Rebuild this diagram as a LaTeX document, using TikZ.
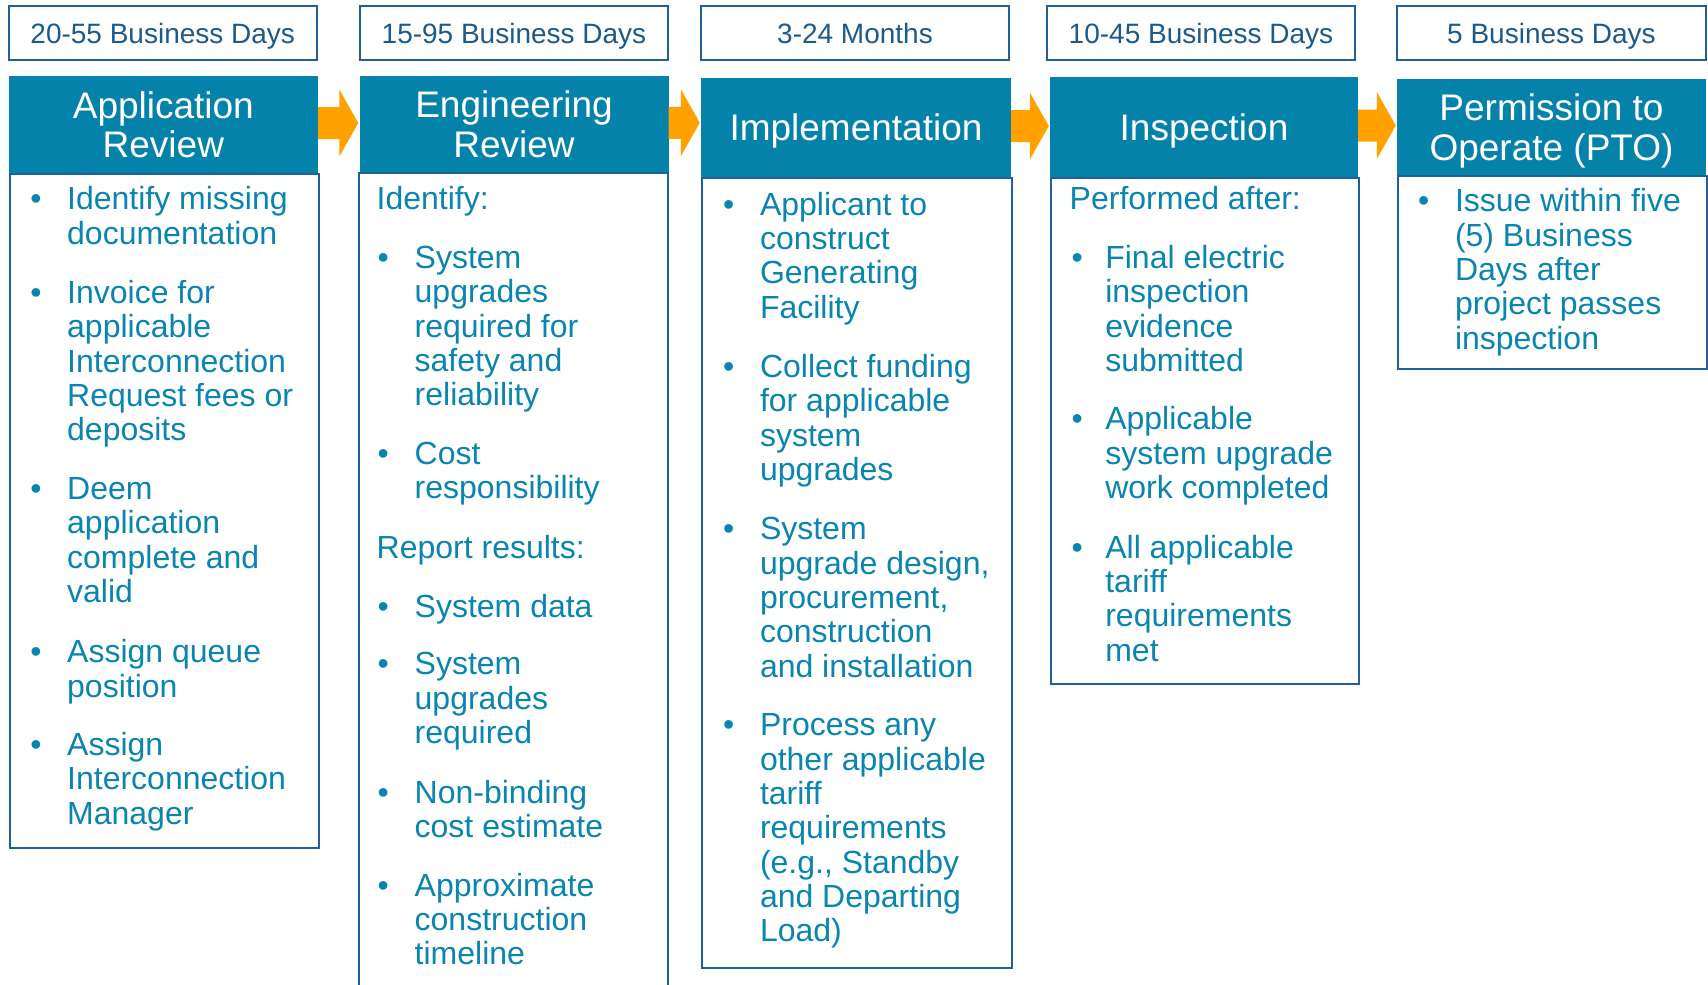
\documentclass[tikz,border=0pt]{standalone}
\usepackage{fontspec}
\setmainfont{Liberation Sans}
\usetikzlibrary{calc}
\definecolor{hdrfill}{HTML}{0482AA}
\definecolor{bodyc}{HTML}{0A85B0}
\definecolor{lblc}{HTML}{1B5A8C}
\definecolor{borderc}{HTML}{1F6098}
\definecolor{arrowc}{HTML}{FFA200}
\tikzset{
  lblbox/.style={draw=borderc, line width=2pt, fill=white, minimum height=54, inner sep=0,
    text=lblc, text height=20, text depth=0, font=\fontsize{28}{32}\selectfont},
  hdrbox/.style={fill=hdrfill, inner sep=0, text=white, align=center, text depth=0,
    font=\fontsize{37}{39.5}\selectfont},
  contbox/.style={draw=borderc, line width=2pt, anchor=north west, inner sep=0},
  bodytext/.style={anchor=north west, inner sep=0, text=bodyc, align=left,
    font=\fontsize{32}{34.3}\selectfont, xshift=1.5pt, yshift=-1.3pt},
  bul/.style={anchor=north, inner sep=0, text=bodyc, font=\fontsize{32}{34.3}\selectfont,
    xshift=1pt, yshift=-1.3pt},
}
\newcommand\bitem[5]{%
  \node[bul] (#1b) at (#2,#4) {\strut\textbullet};
  \node[bodytext] (#1) at (#3,#4) {\strut #5};}
\newcommand\flowarrow[2]{%
  \fill[arrowc] let \p1=(#1.east), \p2=(#2.west) in
    (\x1,\y1+17.5) -- (\x2-20,\y1+17.5) -- (\x2-20,\y1+35) -- (\x2-1,\y1+1.5)
    -- (\x2-20,\y1-32) -- (\x2-20,\y1-14.5) -- (\x1,\y1-14.5) -- cycle;}
\begin{document}
\begin{tikzpicture}[x=1pt,y=-1pt]
\useasboundingbox (0,0) rectangle (1708,985);
\fill[white] (0,0) rectangle (1708,985);

% duration labels
\node[lblbox, minimum width=308.5] (l1) at (162.75,33) {20-55 Business Days};
\node[lblbox, minimum width=308] (l2) at (514,33) {15-95 Business Days};
\node[lblbox, minimum width=308] (l3) at (855,33) {3-24 Months};
\node[lblbox, minimum width=308] (l4) at (1201,33) {10-45 Business Days};
\node[lblbox, minimum width=309] (l5) at (1551.5,33) {5 Business Days};

% headers
\node[hdrbox, minimum width=309.3, minimum height=97] (h1) at (163.35,124.5) {Application\\Review};
\node[hdrbox, minimum width=309, minimum height=97.5] (h2) at (514,124.25) {Engineering\\Review};
\node[hdrbox, minimum width=310, minimum height=99] (h3) at (856,127.5) {Implementation};
\node[hdrbox, minimum width=308, minimum height=100] (h4) at (1204,127) {Inspection};
\node[hdrbox, minimum width=309, minimum height=96] (h5) at (1551.5,127) {Permission to\\Operate (PTO)};

% content boxes
\node[contbox, minimum width=309.3, minimum height=674] (b1) at (8.7,173) {};
\draw[borderc, line width=2pt] (359,990) -- (359,173) -- (668,173) -- (668,990);
\coordinate (b2) at (359,173);
\node[contbox, minimum width=310, minimum height=790] (b3) at (701,177) {};
\node[contbox, minimum width=308, minimum height=506] (b4) at (1050,177) {};
\node[contbox, minimum width=309, minimum height=193] (b5) at (1397,175) {};

% arrows
\flowarrow{h1}{h2}
\flowarrow{h2}{h3}
\flowarrow{h3}{h4}
\flowarrow{h4}{h5}

% column 1
\bitem{a1}{35}{65.5}{184.3}{Identify missing\\documentation}
\bitem{a2}{35}{65.5}{277.9}{Invoice for\\applicable\\Interconnection\\Request fees or\\deposits}
\bitem{a3}{35}{65.5}{474}{Deem\\application\\complete and\\valid}
\bitem{a4}{35}{65.5}{637.4}{Assign queue\\position}
\bitem{a5}{35}{65.5}{730}{Assign\\Interconnection\\Manager}

% column 2
\node[bodytext] (e0) at (375,184.3) {\strut Identify:};
\bitem{e1}{382.3}{413}{243}{System\\upgrades\\required for\\safety and\\reliability}
\bitem{e2}{382.3}{413}{439}{Cost\\responsibility}
\node[bodytext] (e3) at (375,532.8) {\strut Report results:};
\bitem{e4}{382.3}{413}{591.7}{System data}
\bitem{e5}{382.3}{413}{649.4}{System\\upgrades\\required}
\bitem{e6}{382.3}{413}{778}{Non-binding\\cost estimate}
\bitem{e7}{382.3}{413}{870.5}{Approximate\\construction\\timeline}

% column 3
\bitem{i1}{727.7}{758.3}{189.7}{Applicant to\\construct\\Generating\\Facility}
\bitem{i2}{727.7}{758.3}{352}{Collect funding\\for applicable\\system\\upgrades}
\bitem{i3}{727.7}{758.3}{514.3}{System\\upgrade design,\\procurement,\\construction\\and installation}
\bitem{i4}{727.7}{758.3}{710.4}{Process any\\other applicable\\tariff\\requirements\\(e.g., Standby\\and Departing\\Load)}

% column 4
\node[bodytext] (n0) at (1068,184.3) {\strut Performed after:};
\bitem{n1}{1076.2}{1103.6}{243}{Final electric\\inspection\\evidence\\submitted}
\bitem{n2}{1076.2}{1103.6}{404.3}{Applicable\\system upgrade\\work completed}
\bitem{n3}{1076.2}{1103.6}{532.8}{All applicable\\tariff\\requirements\\met}

% column 5
\bitem{p1}{1422.6}{1453.3}{186.4}{Issue within five\\(5) Business\\Days after\\project passes\\inspection}
\end{tikzpicture}
\end{document}
